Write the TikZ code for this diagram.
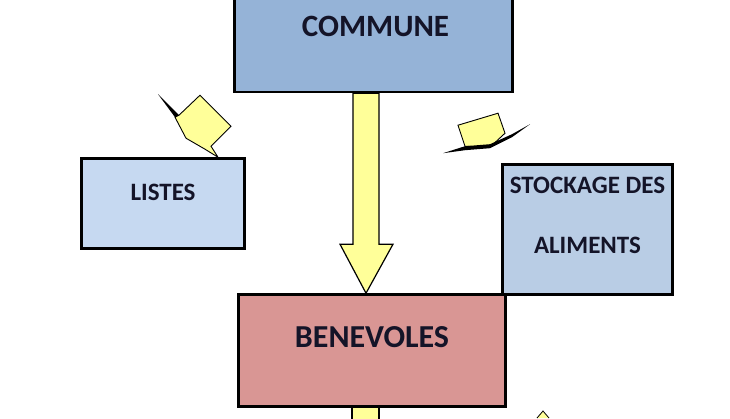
\documentclass[tikz,border=0pt]{standalone}
\usepackage{fontspec}
\setmainfont{Carlito}
\usetikzlibrary{positioning,backgrounds}
\definecolor{bleu}{RGB}{149,179,215}
\definecolor{bleuclair}{RGB}{198,217,241}
\definecolor{bleugris}{RGB}{185,205,229}
\definecolor{rose}{RGB}{217,150,148}
\definecolor{jaune}{RGB}{255,255,153}
\definecolor{encre}{RGB}{20,20,40}
\tikzset{
  boite/.style={draw=black, line width=2.6pt, inner sep=0pt},
  titre/.style={text=encre, font=\bfseries\fontsize{#1}{#1}\selectfont, inner sep=0pt},
  fleche/.style={draw=black, line width=1.2pt, fill=jaune, line join=miter},
}
\begin{document}
\begin{tikzpicture}[x=1pt,y=-1pt]
\useasboundingbox (0,0) rectangle (730,418);
\clip (0,0) rectangle (730,418);
\node [boite, fill=bleu, minimum width=278pt, minimum height=132pt] (commune) at (373.5,26) {};
\node [boite, fill=bleuclair, minimum width=163pt, minimum height=90pt] (listes) at (163,203.5) {};
\node [boite, fill=bleugris, minimum width=170pt, minimum height=130pt] (stockage) at (587.5,229.5) {};
\node [boite, fill=rose, minimum width=267pt, minimum height=112pt] (benevoles) at (372,350.5) {};
\node [titre=31] (communeT) at ([xshift=2pt]commune) {COMMUNE};
\node [titre=25] (listesT) at ([yshift=11.5pt]listes.center) {LISTES};
\node [titre=25, align=center] (stockageT) at ([yshift=14pt]stockage.center) {STOCKAGE DES\\[35pt]ALIMENTS};
\node [titre=32] (benevolesT) at ([yshift=13.5pt]benevoles.center) {BENEVOLES};
\begin{scope}[on background layer]
\fill [white] (0,0) rectangle (730,418);
\coordinate (haut) at ([xshift=-7.5pt]commune.south);
\coordinate (bas) at (haut |- benevoles.north);
\draw [fleche] ([xshift=-13pt]haut) -- ([xshift=-13pt,yshift=49pt]bas) -- ([xshift=-26pt,yshift=49pt]bas) -- (bas) -- ([xshift=27pt,yshift=49pt]bas) -- ([xshift=13pt,yshift=49pt]bas) -- ([xshift=13pt]haut) -- cycle;
\coordinate (suite) at ([xshift=-6.5pt]benevoles.south);
\draw [fleche] ([xshift=-13.5pt]suite) rectangle ([xshift=13.5pt,yshift=-30pt]suite);
\end{scope}
\coordinate (pointeG) at ([xshift=55pt]listes.north);
\begin{scope}[shift={(pointeG)}]
\draw [fleche, line width=0.9pt] (-39,-42) -- (-18,-62) -- (13,-31) -- (-7,-11) -- (0,0) -- (-13,-8) -- (-32,-19) -- (-43,-40) -- cycle;
\fill [black] (-60,-63) -- (-39,-42) -- (-43,-40) -- cycle;
\end{scope}
\coordinate (pointeD) at ([xshift=-82.5pt,yshift=30pt]stockage.north);
\begin{scope}[shift={(pointeD)}]
\draw [fleche, line width=0.9pt] (-47,-8) -- (-7,-20) -- (0,0) -- (-15,14) -- (-40,13) -- cycle;
\fill [black] (-62,20) -- (-40,13) -- (-15,11) -- (7,1) -- (25,-9) -- (7,4) -- (-15,15) -- (-40,17) -- cycle;
\end{scope}
\draw [fleche, line width=0.8pt] (537,418) -- (543,411) -- (549,418);
\end{tikzpicture}
\end{document}
